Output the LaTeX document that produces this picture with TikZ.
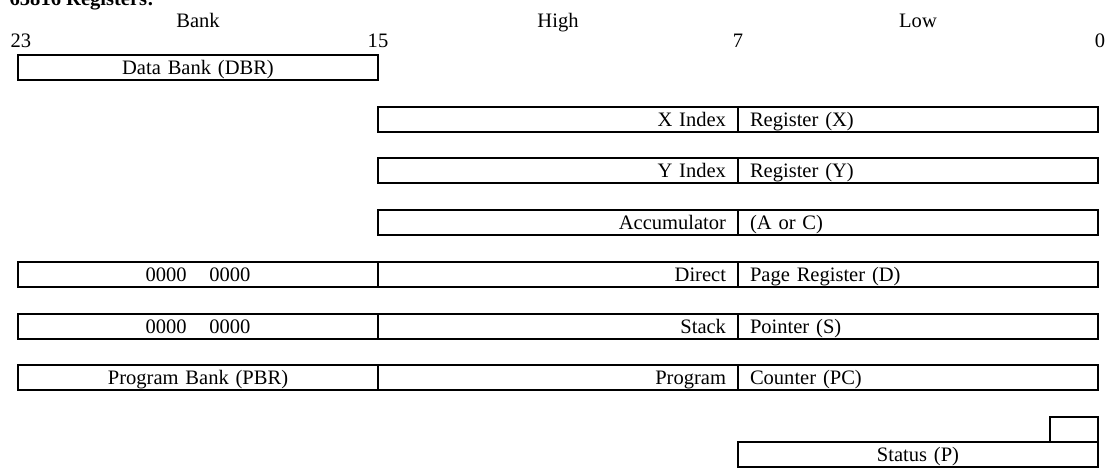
\documentclass[tikz,border=0pt]{standalone}
\usepackage{fontspec}
\setmainfont{Liberation Serif}
\usetikzlibrary{positioning}

\begin{document}
\begin{tikzpicture}[
  x=0.75pt, y=-0.75pt,
  font=\fontsize{15.4}{18}\selectfont,
  cell/.style={
    rectangle, draw, line width=1.5pt, outer sep=0pt,
    minimum width=270pt, minimum height=18.75pt,
    inner xsep=9pt, inner ysep=0pt,
    text height=14pt, text depth=3.5pt, anchor=north west
  },
  hicell/.style={cell, text width=252pt, align=right},
  locell/.style={cell, text width=252pt, align=left},
  midcell/.style={cell, text width=252pt, align=center},
  flagcell/.style={cell, minimum width=36pt},
  colhead/.style={anchor=base},
  bitnum/.style={anchor=base},
]

\useasboundingbox (0,0) rectangle (1111,469);

%% ════════════════════════════════════════════════
%% HEADINGS
%% Title sits mostly above the page edge, only its foot shows.
%% ════════════════════════════════════════════════

\node[anchor=base west, font=\fontsize{15.4}{18}\selectfont\bfseries] (title) at (5,5) {65816 Registers:};

\node[colhead] (bank) at (198,27) {Bank};
\node[colhead] (high) at (558,27) {High};
\node[colhead] (low)  at (918,27) {Low};

\node[bitnum, anchor=base west] (b23) at (6,47) {23};
\node[bitnum] (b15) at (378,47)  {15};
\node[bitnum] (b7)  at (738,47)  {7};
\node[bitnum] (b0)  at (1100,47) {0};

%% ════════════════════════════════════════════════
%% REGISTERS — one row every ~52px
%% outer sep=0 so neighbouring cells share one edge
%% ════════════════════════════════════════════════

%% Data bank
\node[midcell] (dbr) at (18,55) {Data Bank (DBR)};

%% Index registers
\node[hicell] (xhi) at (378,106.7) {X Index};
\node[locell, right=0pt of xhi] (xlo) {Register (X)};

\node[hicell] (yhi) at (378,158.4) {Y Index};
\node[locell, right=0pt of yhi] (ylo) {Register (Y)};

%% Accumulator
\node[hicell] (ahi) at (378,210.1) {Accumulator};
\node[locell, right=0pt of ahi] (alo) {(A or C)};

%% Direct page — bank byte always zero
\node[midcell] (dbank) at (18,261.8) {0000\hspace{1.1em}0000};
\node[hicell, right=0pt of dbank] (dhi) {Direct};
\node[locell, right=0pt of dhi] (dlo) {Page Register (D)};

%% Stack pointer — bank byte always zero
\node[midcell] (sbank) at (18,313.5) {0000\hspace{1.1em}0000};
\node[hicell, right=0pt of sbank] (shi) {Stack};
\node[locell, right=0pt of shi] (slo) {Pointer (S)};

%% Program counter
\node[midcell] (pbr) at (18,365.2) {Program Bank (PBR)};
\node[hicell, right=0pt of pbr] (pchi) {Program};
\node[locell, right=0pt of pchi] (pclo) {Counter (PC)};

%% Status + emulation bit
\node[flagcell] (ebit) at (1050,416.9) {};
\node[midcell] (stat) at (738,441.9) {Status (P)};

\end{tikzpicture}
\end{document}
